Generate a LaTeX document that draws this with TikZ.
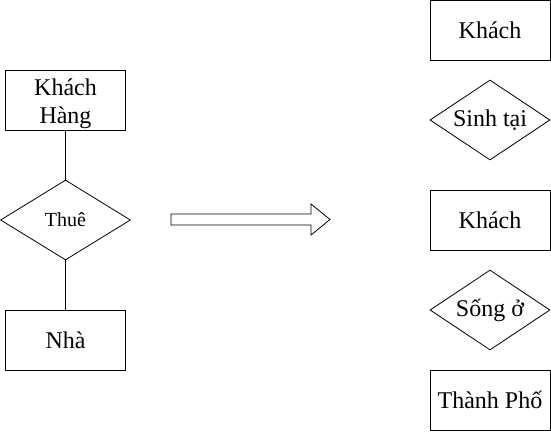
\documentclass[tikz,border=0pt]{standalone}
\usepackage{fontspec}
\setmainfont{Liberation Serif}
\usetikzlibrary{shapes.geometric}
\tikzset{
  ent/.style={draw, rectangle, line width=0.8pt, minimum width=120pt, minimum height=60pt, inner sep=0pt, align=center, font=\fontsize{24}{28}\selectfont},
  rel/.style={draw, diamond, shape aspect=1.5, line width=0.8pt, minimum width=120pt, minimum height=80pt, inner sep=0pt, font=\fontsize{24}{28}\selectfont},
  link/.style={line width=0.8pt},
  blockarrow/.style={draw, line width=0.8pt}
}
\begin{document}
\begin{tikzpicture}[x=1pt,y=-1pt]
\useasboundingbox (0,0) rectangle (551,431);
% left diagram
\node[ent, label={[yshift=-4pt, align=center, font=\fontsize{24}{28}\selectfont]center:Khách\\Hàng}] (kh) at (65.5,100) {};
\node[rel, shape aspect=1.625, minimum width=130pt, font=\fontsize{20}{24}\selectfont] (thue) at (65.5,220) {Thuê};
\node[ent] (nha) at (65.5,340) {Nhà};
\draw[link] (kh) -- (thue);
\draw[link] (thue) -- (nha);
% block arrow
\draw[blockarrow] (171,214) -- (311,214) -- (311,204) -- (330,219.5) -- (311,235) -- (311,225) -- (171,225) -- cycle;
% right column
\node[ent] (k1) at (490,30) {Khách};
\node[rel] (sinh) at (490,120) {Sinh tại};
\node[ent] (k2) at (490,220) {Khách};
\node[rel] (song) at (490,310) {Sống ở};
\node[ent] (tp) at (490,400) {Thành Phố};
\end{tikzpicture}
\end{document}
